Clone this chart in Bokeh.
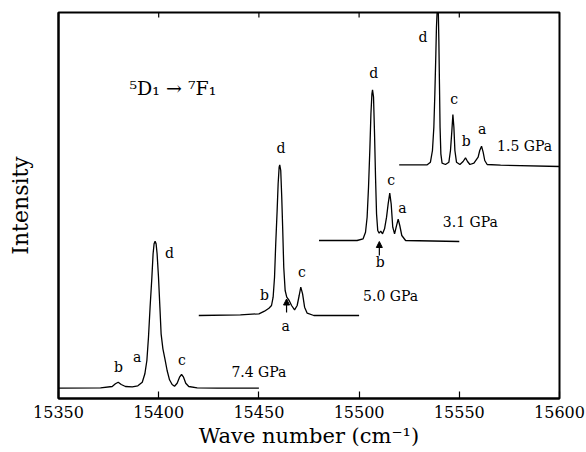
from bokeh.plotting import figure
from bokeh.models import (Range1d, FixedTicker, ColumnDataSource,
                          Arrow, NormalHead, Label)
from bokeh.core.properties import value
from bokeh.embed import file_html
from bokeh.resources import INLINE

# ---------------- data ----------------
x_ticks = [15350, 15400, 15450, 15500, 15550, 15600]

x_74 = [15350, 15371.0, 15376.8, 15378.4, 15379.8, 15381.3, 15383.4, 15386.8, 15389.6,
        15391.8, 15393.1, 15394.1, 15394.9, 15395.7, 15396.6, 15397.2, 15397.7, 15398.2,
        15398.7, 15399.2, 15399.9, 15400.6, 15401.2, 15402.1, 15403.1, 15404.2, 15405.4,
        15406.7, 15407.9, 15409.2, 15410.4, 15411.4, 15412.4, 15413.5, 15415.0, 15419.2,
        15429.2, 15450]
y_74 = [10.3, 10.7, 12.0, 14.7, 16.3, 14.0, 12.0, 11.7, 12.7,
        16.3, 24.7, 38.0, 61.3, 91.3, 121.3, 144.7, 154.7, 157.3,
        154.7, 144.7, 121.3, 91.3, 64.7, 49.7, 39.7, 28.0, 18.7,
        14.0, 12.3, 15.3, 21.3, 24.0, 21.3, 15.3, 12.0, 10.7,
        10.3, 10.3]

x_50 = [15420, 15440.8, 15450.0, 15452.8, 15455.0, 15456.3, 15457.1, 15457.8, 15458.4,
        15459.1, 15459.6, 15460.1, 15460.4, 15460.9, 15461.4, 15461.9, 15462.4, 15463.1,
        15463.9, 15465.1, 15466.3, 15467.8, 15469.1, 15470.1, 15470.9, 15471.8, 15472.8,
        15474.1, 15477.4, 15500]
y_50 = [83, 83.7, 84.7, 87.3, 90.3, 93, 101.3, 121.3, 154.7,
        188, 214.7, 231.3, 233.7, 228, 201.3, 168, 131.3, 108,
        101.3, 98, 93, 88.7, 93, 103, 111.3, 104.7, 91.3,
        85.3, 83, 83]

x_31 = [15480, 15499.0, 15502.0, 15503.2, 15504.0, 15504.7, 15505.4, 15505.9, 15506.4,
        15506.7, 15507.2, 15507.7, 15508.2, 15508.7, 15509.3, 15510.0, 15510.8, 15511.7,
        15512.7, 15513.7, 15514.5, 15515.3, 15516.0, 15516.8, 15517.7, 15518.5, 15519.5,
        15520.3, 15521.3, 15523.2, 15550]
y_31 = [158, 158, 159.7, 166.3, 181.3, 211.3, 251.3, 284.7, 304.7,
        308.7, 301.3, 264.7, 221.3, 184.7, 168, 165.3, 167.3, 164.7,
        169.7, 181.3, 194.7, 205.3, 194.7, 171.3, 164.7, 171.3, 179.3,
        173, 163, 158, 157]

x_15 = [15520, 15534.0, 15535.6, 15536.6, 15537.3, 15537.8, 15538.3, 15538.6, 15539.0,
        15539.25, 15539.5, 15539.8, 15540.1, 15540.4, 15540.8, 15541.4, 15543.1, 15544.8,
        15545.6, 15546.3, 15546.8, 15547.3, 15547.8, 15548.6, 15550.3, 15551.9, 15553.1,
        15554.1, 15555.3, 15557.3, 15559.4, 15560.2, 15561.1, 15561.9, 15562.7, 15563.9,
        15570.6, 15600]
y_15 = [233.7, 233.7, 236.3, 248, 271.3, 304.7, 344.7, 371.3, 390,
        398, 390, 358, 314.7, 271.3, 244.7, 235.3, 234, 236.3,
        248, 268, 284, 271.3, 248, 236.3, 234, 237, 240.7,
        237, 234, 235.3, 241.3, 248, 252.3, 246.3, 238, 234,
        233.3, 232]

peak_text = ["b", "a", "d", "c",
             "d", "b", "a", "c",
             "d", "c", "a", "b",
             "d", "c", "b", "a"]
peak_x = [15379.9, 15389.2, 15405.4, 15411.6,
          15461.0, 15452.8, 15463.4, 15471.5,
          15507.3, 15516.0, 15521.6, 15510.6,
          15531.9, 15547.4, 15553.4, 15561.4]
peak_y = [31.3, 42.0, 145.3, 38.7,
          251.0, 103.7, 73.0, 126.3,
          325.3, 218.7, 190.7, 136.3,
          361.3, 299.7, 257.3, 269.7]

press_text = ["7.4 GPa", "5.0 GPa", "3.1 GPa", "1.5 GPa"]
press_x = [15450.0, 15515.7, 15555.5, 15582.6]
press_y = [27.0, 103.0, 176.3, 252.3]

arrow_x = [15463.8, 15510.1]
arrow_y0 = [86.0, 143.0]
arrow_y1 = [99.5, 157.0]

title_text = "\u2075D\u2081 \u2192 \u2077F\u2081"
title_x = 15407.1
title_y = 311.0

FONT = "DejaVu Serif"
Y_TOP = 386

# ---------------- figure ----------------
p = figure(width=586, height=452, output_backend="svg", toolbar_location=None,
           x_range=Range1d(15350, 15600), y_range=Range1d(0, Y_TOP),
           min_border_left=58, min_border_right=27, min_border_top=12,
           min_border_bottom=54)
p.background_fill_color = "white"
p.border_fill_color = "white"
p.outline_line_color = "black"
p.outline_line_width = 2
p.xgrid.visible = False
p.ygrid.visible = False

xa = p.xaxis[0]
xa.ticker = FixedTicker(ticks=x_ticks)
xa.axis_line_width = 2
xa.major_tick_in = 7
xa.major_tick_out = 0
xa.major_tick_line_width = 1.2
xa.minor_tick_line_color = None
xa.major_label_standoff = 7
xa.major_label_text_font = FONT
xa.major_label_text_font_size = "16px"
xa.major_label_text_color = "black"
xa.axis_label = "Wave number (cm\u207b\u00b9)"
xa.axis_label_text_font = FONT
xa.axis_label_text_font_size = "21px"
xa.axis_label_text_font_style = "normal"
xa.axis_label_text_color = "black"
xa.axis_label_standoff = 3

ya = p.yaxis[0]
ya.ticker = FixedTicker(ticks=[])
ya.axis_line_width = 2
ya.major_tick_line_color = None
ya.minor_tick_line_color = None
ya.major_label_text_font_size = "0px"
ya.axis_label = "Intensity"
ya.axis_label_text_font = FONT
ya.axis_label_text_font_size = "22px"
ya.axis_label_text_font_style = "normal"
ya.axis_label_text_color = "black"
ya.axis_label_standoff = 26

# inward ticks on the top edge
p.segment(x0=x_ticks, y0=[Y_TOP] * len(x_ticks), x1=x_ticks, y1=[Y_TOP - 5] * len(x_ticks),
          line_color="black", line_width=1.2)

for xs, ys in [(x_74, y_74), (x_50, y_50), (x_31, y_31), (x_15, y_15)]:
    p.line(xs, ys, line_color="black", line_width=1.3)

src_peaks = ColumnDataSource(dict(x=peak_x, y=peak_y, t=peak_text))
p.text(x="x", y="y", text="t", source=src_peaks, text_font=value(FONT),
       text_font_size="14px", text_align="center", text_baseline="middle",
       text_color="black")

src_press = ColumnDataSource(dict(x=press_x, y=press_y, t=press_text))
p.text(x="x", y="y", text="t", source=src_press, text_font=value(FONT),
       text_font_size="14px", text_align="center", text_baseline="middle",
       text_color="black")

for ax, a0, a1 in zip(arrow_x, arrow_y0, arrow_y1):
    p.add_layout(Arrow(end=NormalHead(size=6, fill_color="black", line_color="black"),
                       x_start=ax, y_start=a0, x_end=ax, y_end=a1,
                       line_color="black", line_width=1.2))

p.add_layout(Label(x=title_x, y=title_y, text=title_text, text_font=FONT,
                   text_font_size="19px", text_align="center",
                   text_baseline="middle", text_color="black"))

open("out.html", "w").write(file_html(p, INLINE))
